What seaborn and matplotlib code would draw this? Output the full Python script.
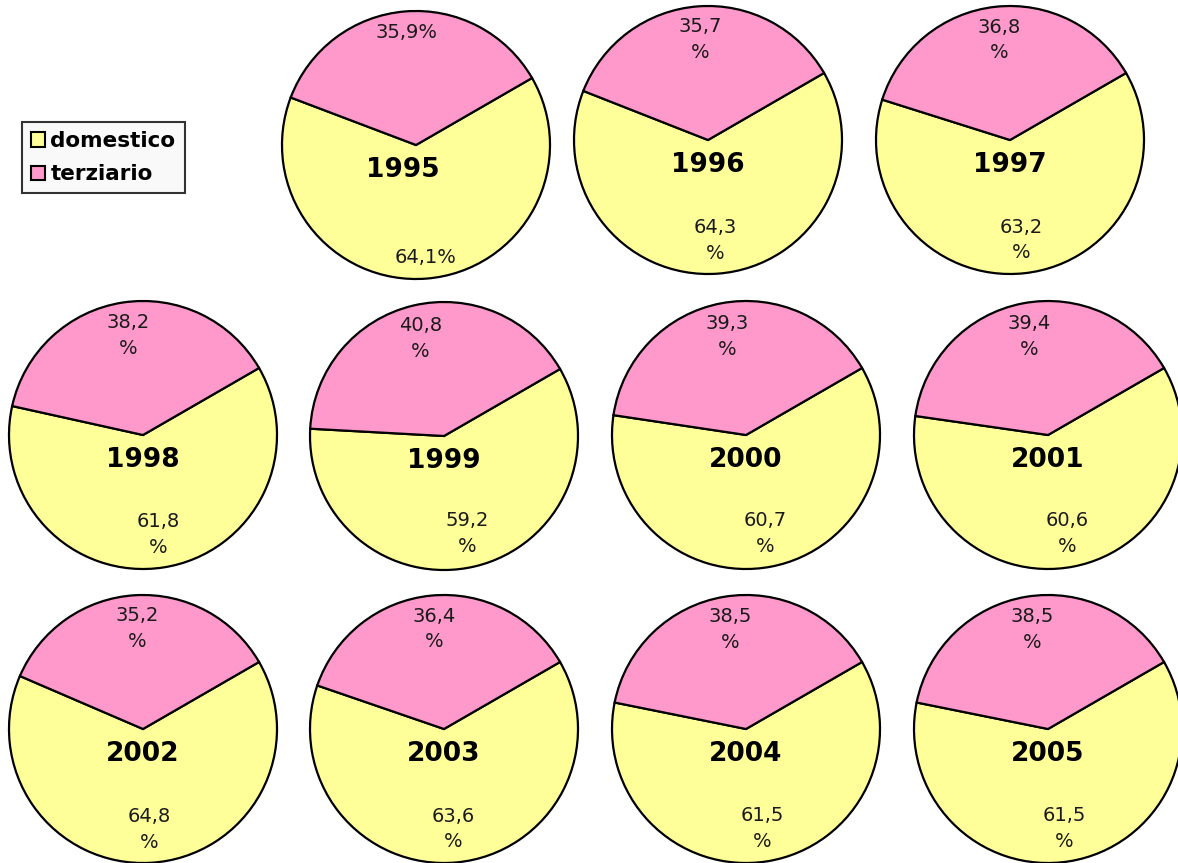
import matplotlib
matplotlib.use('Agg')
import matplotlib.pyplot as plt
from matplotlib.patches import Patch
import seaborn as sns

# ---------------------------------------------------------------
# data: share of domestic vs tertiary consumption per year (%)
# ---------------------------------------------------------------
years = [1995, 1996, 1997, 1998, 1999, 2000, 2001, 2002, 2003, 2004, 2005]
domestico = [64.1, 64.3, 63.2, 61.8, 59.2, 60.7, 60.6, 64.8, 63.6, 61.5, 61.5]
terziario = [35.9, 35.7, 36.8, 38.2, 40.8, 39.3, 39.4, 35.2, 36.4, 38.5, 38.5]
series_names = ['domestico', 'terziario']

sns.set_style('white')
plt.rcParams['font.family'] = ['DejaVu Sans']
plt.rcParams['text.color'] = 'black'
colors = ['#FFFF99', '#FF99CC']

W, H = 1178, 863
fig = plt.figure(figsize=(W / 100, H / 100), dpi=100)

# pie centres in pixels (x from left, y from top)
centres = [(416, 145), (708, 140), (1010, 140),
           (143, 435), (444, 436), (746, 435), (1048, 435),
           (143, 729), (444, 729), (746, 729), (1048, 729)]
R = 134

for year, dom, ter, (cx, cy) in zip(years, domestico, terziario, centres):
    ax = fig.add_axes([(cx - R) / W, (H - cy - R) / H, 2 * R / W, 2 * R / H])
    one_line = year == 1995
    sep = '' if one_line else '\n'
    wedges, _, pcts = ax.pie(
        [dom, ter], colors=colors, startangle=30, counterclock=False,
        autopct=lambda p, s=sep: f"{p:.1f}".replace('.', ',') + s + '%',
        pctdistance=0.84 if one_line else 0.75,
        wedgeprops=dict(edgecolor='black', linewidth=1.6),
        textprops=dict(fontsize=14, color='#1a1a1a'))
    for w in wedges:
        w.set_clip_on(False)
    for t in pcts:
        t.set_linespacing(1.45)
    ax.set_xlim(-1, 1)
    ax.set_ylim(-1, 1)
    ax.axis('off')
    dx = -0.1 if one_line else 0.0
    ax.text(dx, -0.19, str(year), ha='center', va='center',
            fontsize=19, fontweight='bold', color='black')

handles = [Patch(facecolor=c, edgecolor='black', linewidth=1.5) for c in colors]
leg = fig.legend(handles, series_names, loc='upper left',
                 bbox_to_anchor=(22 / W, 1 - 122 / H), borderaxespad=0,
                 prop={'weight': 'bold', 'size': 15.5}, frameon=True,
                 fancybox=False, facecolor='#F8F8F8', edgecolor='black',
                 handlelength=0.65, handleheight=0.65, handletextpad=0.25,
                 labelspacing=0.62, borderpad=0.42)
leg.get_frame().set_linewidth(1.5)
for t in leg.get_texts():
    t.set_color('black')

fig.savefig('out.png', dpi=100)
